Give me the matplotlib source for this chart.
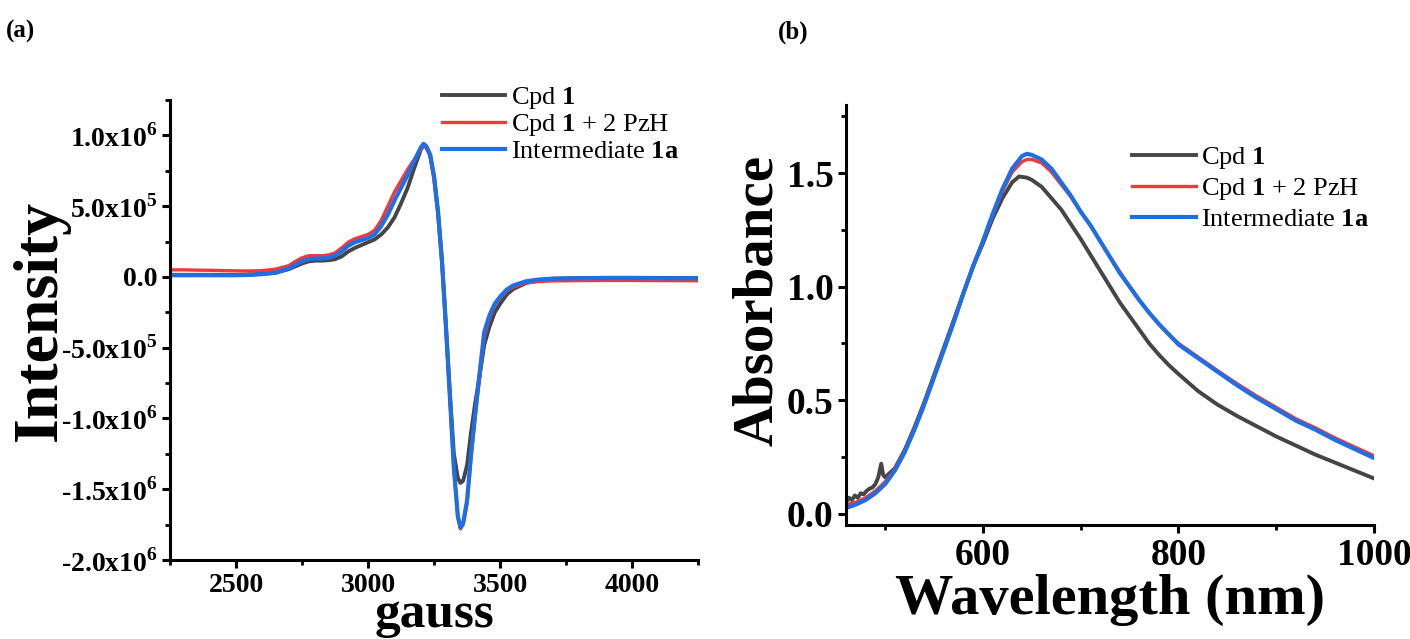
import numpy as np
import matplotlib.pyplot as plt
from matplotlib.ticker import FuncFormatter, MultipleLocator, AutoMinorLocator

plt.rcParams['font.family'] = ['Liberation Serif', 'DejaVu Serif']
plt.rcParams['mathtext.fontset'] = 'custom'
plt.rcParams['mathtext.rm'] = 'Liberation Serif'
plt.rcParams['mathtext.bf'] = 'Liberation Serif:bold'

# EPR spectra, intensity in units of 1e6
field = [2250, 2300, 2350, 2400, 2450, 2500, 2550, 2600, 2650, 2700,
         2725, 2750, 2775, 2800, 2825, 2850, 2875, 2900, 2925, 2950,
         2975, 3000, 3025, 3050, 3075, 3100, 3125, 3150, 3175, 3200,
         3210, 3220, 3235, 3250, 3265, 3280, 3295, 3310, 3325, 3340,
         3350, 3360, 3375, 3390, 3405, 3420, 3440, 3460, 3480, 3500,
         3525, 3550, 3600, 3650, 3700, 3800, 3900, 4000, 4100, 4250]
epr_cpd1 = [0.015, 0.015, 0.015, 0.015, 0.015, 0.015, 0.017, 0.022, 0.030, 0.055,
            0.075, 0.095, 0.110, 0.115, 0.115, 0.118, 0.125, 0.145, 0.180, 0.205,
            0.225, 0.245, 0.265, 0.300, 0.350, 0.420, 0.520, 0.630, 0.770, 0.900,
            0.935, 0.920, 0.860, 0.700, 0.450, 0.110, -0.350, -0.820, -1.250, -1.420,
            -1.455, -1.440, -1.330, -1.100, -0.900, -0.730, -0.480, -0.350, -0.250, -0.190,
            -0.125, -0.085, -0.042, -0.022, -0.013, -0.008, -0.006, -0.006, -0.007, -0.008]
epr_pzh = [0.050, 0.050, 0.048, 0.047, 0.045, 0.043, 0.042, 0.045, 0.055, 0.080,
           0.110, 0.135, 0.150, 0.150, 0.150, 0.155, 0.170, 0.205, 0.245, 0.270,
           0.285, 0.300, 0.330, 0.400, 0.500, 0.600, 0.680, 0.760, 0.830, 0.900,
           0.920, 0.915, 0.860, 0.710, 0.460, 0.110, -0.350, -0.860, -1.360, -1.700,
           -1.780, -1.750, -1.600, -1.280, -1.000, -0.750, -0.420, -0.290, -0.200, -0.150,
           -0.100, -0.070, -0.042, -0.032, -0.028, -0.026, -0.025, -0.025, -0.026, -0.027]
epr_1a = [0.012, 0.012, 0.012, 0.012, 0.012, 0.012, 0.014, 0.020, 0.030, 0.060,
          0.085, 0.110, 0.125, 0.130, 0.130, 0.135, 0.150, 0.180, 0.220, 0.245,
          0.260, 0.275, 0.300, 0.360, 0.440, 0.540, 0.630, 0.720, 0.820, 0.915,
          0.940, 0.925, 0.865, 0.710, 0.460, 0.110, -0.350, -0.850, -1.350, -1.690,
          -1.770, -1.740, -1.580, -1.250, -0.980, -0.720, -0.390, -0.270, -0.190, -0.140,
          -0.090, -0.060, -0.030, -0.018, -0.012, -0.009, -0.008, -0.008, -0.009, -0.010]

# UV-vis absorption spectra
wl_cpd1 = [460, 463, 466, 469, 472, 475, 478, 481, 484, 487, 490, 493, 495, 496, 498,
           500, 510, 520, 530, 540, 550, 560, 570, 580, 590, 600, 610, 620, 630, 637,
           645, 650, 660, 670, 680, 690, 700, 710, 720, 730, 740, 750, 760, 770, 780,
           790, 800, 820, 840, 860, 880, 900, 920, 940, 960, 980, 1000]
abs_cpd1 = [0.050, 0.070, 0.060, 0.080, 0.070, 0.090, 0.085, 0.100, 0.110, 0.115, 0.130, 0.160, 0.200, 0.220, 0.170,
            0.160, 0.200, 0.280, 0.380, 0.490, 0.610, 0.730, 0.850, 0.970, 1.090, 1.190, 1.300, 1.390, 1.460, 1.485,
            1.480, 1.470, 1.440, 1.390, 1.340, 1.275, 1.210, 1.140, 1.070, 1.000, 0.930, 0.870, 0.810, 0.750, 0.700,
            0.655, 0.615, 0.540, 0.480, 0.430, 0.385, 0.340, 0.300, 0.260, 0.225, 0.190, 0.155]
wl = [460, 470, 480, 490, 500, 510, 520, 530, 540, 550, 560, 570, 580, 590, 600,
      610, 620, 630, 640, 645, 650, 660, 670, 680, 690, 700, 710, 720, 730, 740,
      750, 760, 770, 780, 790, 800, 820, 840, 860, 880, 900, 920, 940, 960, 980, 1000]
abs_pzh = [0.040, 0.050, 0.070, 0.100, 0.140, 0.195, 0.275, 0.375, 0.485, 0.605, 0.725, 0.845, 0.970, 1.090, 1.200,
           1.315, 1.420, 1.505, 1.550, 1.560, 1.560, 1.545, 1.505, 1.450, 1.395, 1.330, 1.270, 1.200, 1.130, 1.065,
           1.000, 0.940, 0.885, 0.835, 0.790, 0.750, 0.690, 0.630, 0.572, 0.518, 0.468, 0.418, 0.378, 0.334, 0.294, 0.255]
abs_1a = [0.025, 0.040, 0.060, 0.090, 0.130, 0.190, 0.270, 0.370, 0.480, 0.600, 0.720, 0.840, 0.970, 1.090, 1.200,
          1.320, 1.430, 1.520, 1.575, 1.585, 1.580, 1.560, 1.520, 1.460, 1.400, 1.330, 1.270, 1.200, 1.130, 1.060,
          1.000, 0.940, 0.885, 0.835, 0.790, 0.745, 0.685, 0.625, 0.565, 0.510, 0.460, 0.410, 0.370, 0.325, 0.285, 0.245]

labels = ['Cpd $\\mathbf{1}$', 'Cpd $\\mathbf{1}$ + 2 PzH', 'Intermediate $\\mathbf{1a}$']
colors = ['#454545', '#f0393c', '#1f6ee3']
widths = [2.8, 2.4, 3.0]


def sci_label(v, pos):
    if abs(v) < 1e-9:
        return '0.0'
    e = int(np.floor(np.log10(abs(v)) + 1e-9))
    m = v / 10 ** e
    return f'{m:.1f}x10$^{{\\mathbf{{{e}}}}}$'


def style_axes(ax, size):
    for s in ['top', 'right']:
        ax.spines[s].set_visible(False)
    for s in ['left', 'bottom']:
        ax.spines[s].set_linewidth(2.2)
    ax.tick_params(which='major', direction='out', length=6, width=2.2, labelsize=size, pad=3)
    ax.tick_params(which='minor', direction='out', length=3.5, width=2.0)
    for t in ax.get_xticklabels() + ax.get_yticklabels():
        t.set_fontweight('bold')


fig = plt.figure(figsize=(14.1, 6.39), dpi=100)

# (a) EPR
ax1 = fig.add_axes([0.1206, 0.1236, 0.3745, 0.7199])
scale = 1e6
for y, lab, c, lw in zip([epr_cpd1, epr_pzh, epr_1a], labels, colors, widths):
    ax1.plot(field, np.array(y) * scale, color=c, lw=lw, label=lab)
ax1.set_xlim(2250, 4250)
ax1.set_ylim(-2.0e6, 1.25e6)
ax1.xaxis.set_major_locator(MultipleLocator(500))
ax1.xaxis.set_minor_locator(AutoMinorLocator(2))
ax1.yaxis.set_major_locator(MultipleLocator(5e5))
ax1.yaxis.set_minor_locator(AutoMinorLocator(2))
ax1.yaxis.set_major_formatter(FuncFormatter(sci_label))
style_axes(ax1, 20)
ax1.set_xlabel('gauss', fontsize=37, fontweight='bold', labelpad=-4)
ax1.set_ylabel('Intensity', fontsize=46, fontweight='bold')
ax1.yaxis.set_label_coords(-0.19, 0.52)
ax1.legend(loc='upper left', bbox_to_anchor=(0.515, 1.033), frameon=False, fontsize=19,
           handlelength=2.4, handletextpad=0.22, labelspacing=0.06, borderpad=0, borderaxespad=0)

# (b) UV-vis
ax2 = fig.add_axes([0.6, 0.1784, 0.3745, 0.6573])
for x, y, lab, c, lw in zip([wl_cpd1, wl, wl], [abs_cpd1, abs_pzh, abs_1a], labels, colors, widths):
    ax2.plot(x, y, color=c, lw=lw, label=lab)
ax2.set_xlim(460, 1000)
ax2.set_ylim(-0.05, 1.8)
ax2.xaxis.set_major_locator(MultipleLocator(200))
ax2.xaxis.set_minor_locator(AutoMinorLocator(2))
ax2.yaxis.set_major_locator(MultipleLocator(0.5))
ax2.yaxis.set_minor_locator(AutoMinorLocator(2))
ax2.yaxis.set_major_formatter(FuncFormatter(lambda v, p: f'{v:.1f}'))
style_axes(ax2, 27)
ax2.set_xlabel('Wavelength (nm)', fontsize=42, fontweight='bold', labelpad=1)
ax2.set_ylabel('Absorbance', fontsize=41, fontweight='bold')
ax2.yaxis.set_label_coords(-0.118, 0.535)
ax2.legend(loc='upper left', bbox_to_anchor=(0.542, 0.905), frameon=False, fontsize=19,
           handlelength=2.4, handletextpad=0.22, labelspacing=0.2, borderpad=0, borderaxespad=0)

fig.text(0.004, 0.95, '(a)', fontsize=18, fontweight='bold', va='center')
fig.text(0.552, 0.95, '(b)', fontsize=18, fontweight='bold', va='center')

fig.savefig('out.png', dpi=100, facecolor='white')
